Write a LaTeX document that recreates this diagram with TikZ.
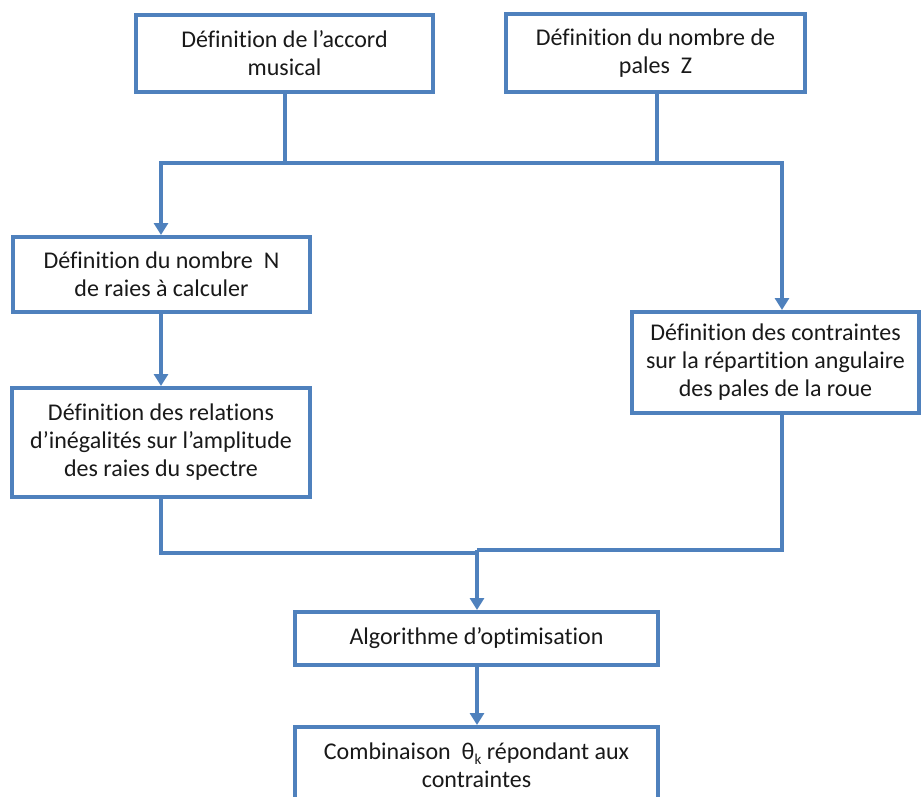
\documentclass[tikz,border=0pt]{standalone}
\usepackage{fontspec}
\setmainfont{Carlito}[Ligatures=CommonOff]
\usetikzlibrary{arrows.meta}
\definecolor{boxblue}{HTML}{4F81BD}
\begin{document}
\begin{tikzpicture}[x=1pt,y=-1pt,
  box/.style={draw=boxblue,line width=4pt,fill=white,inner sep=0pt,align=center,
    font=\fontsize{24}{28}\selectfont,text=black!90},
  link/.style={draw=boxblue,line width=4pt,line join=miter},
  arr/.style={link,-{Triangle[width=14pt,length=12pt]}}]
\useasboundingbox (0,0) rectangle (921,796);
\clip (0,0) rectangle (921,796);
\node[box,minimum width=297pt,minimum height=77pt] (b1) at (284.5,53.5) {Définition de l’accord\\musical};
\node[box,minimum width=299pt,minimum height=78pt] (b2) at (655.5,53) {Définition du nombre de\\pales~ Z};
\node[box,minimum width=297pt,minimum height=75pt] (b3) at (161.5,274.5) {Définition du nombre~ N\\de raies à calculer};
\node[box,minimum width=287pt,minimum height=101pt] (b4) at (775.5,362.5) {Définition des contraintes\\sur la répartition angulaire\\des pales de la roue};
\node[box,minimum width=298pt,minimum height=109pt] (b5) at (161,442.5) {Définition des relations\\d’inégalités sur l’amplitude\\des raies du spectre};
\node[box,minimum width=363pt,minimum height=53pt] (b6) at (476.5,638.5) {Algorithme d’optimisation};
\node[box,minimum width=363pt,minimum height=76pt] (b7) at (476.5,765) {Combinaison~ θ\raisebox{-5pt}{\fontsize{15}{15}\selectfont k} répondant aux\\contraintes};
\coordinate (tl) at (161,163);
\coordinate (tr) at (782,163);
\coordinate (bl) at (161,553);
\coordinate (bm) at (477,553);
\coordinate (br) at (782,550);
\draw[link] (b1.south) -- (b1.south |- tl);
\draw[link] (657,92) -- (657,163);
\draw[arr] (tr) -- (tl) -- (tl |- b3.north);
\draw[arr] (tl) -- (tr) -- (tr |- b4.north);
\draw[arr] (b3.south -| tl) -- (tl |- b5.north);
\draw[link] (bl |- b5.south) -- (bl) -- (bm);
\draw[link] (br |- b4.south) -- (br) -- (br -| bm);
\draw[arr] (br -| bm) -- (bm |- b6.north);
\draw[arr] (b6.south -| bm) -- (bm |- b7.north);
\end{tikzpicture}
\end{document}
